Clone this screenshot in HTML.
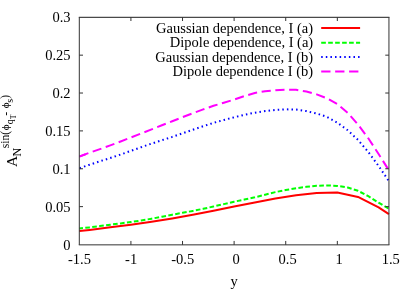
<!DOCTYPE html>
<html><head><meta charset="utf-8"><title>plot</title>
<style>
html,body{margin:0;padding:0;background:#fff;}
svg{display:block;will-change:transform;}
text{font-family:"Liberation Serif",serif;font-size:14.5px;fill:#000;}
</style></head>
<body>
<svg width="415" height="291" viewBox="0 0 415 291">
<rect x="0" y="0" width="415" height="291" fill="#fff"/>
<g fill="none" stroke-width="2" stroke-linejoin="round">
<polyline points="79.3,231.1 89.6,229.9 110.3,227.3 130.9,224.7 151.6,221.8 172.2,218.5 192.8,214.8 213.5,210.8 234.1,206.6 254.8,202.4 275.4,198.4 296.1,195.2 316.7,192.9 337.3,192.6 358.0,196.9 378.6,207.4 388.9,214.2" stroke="#ff0000"/>
<polyline points="79.3,228.5 89.6,227.4 99.9,226.1 110.3,224.7 120.6,223.4 130.9,222.0 141.2,220.5 151.6,218.7 161.9,216.7 172.2,214.7 182.5,212.8 192.8,210.9 203.2,208.8 213.5,206.5 223.8,204.1 234.1,201.7 244.4,199.6 254.8,197.3 265.1,194.7 275.4,192.1 285.7,190.0 296.1,188.3 306.4,186.8 316.7,185.7 327.0,185.4 337.3,185.9 347.7,187.5 358.0,190.8 368.3,196.2 378.6,202.6 389.0,208.8" stroke="#00ff00" stroke-dasharray="4.65 2.35" stroke-dashoffset="1"/>
<polyline points="79.3,168.3 89.6,164.7 99.9,161.3 110.3,158.0 120.6,154.5 130.9,150.9 141.2,147.2 151.6,143.6 161.9,140.2 172.2,136.9 182.5,133.3 192.8,129.7 203.2,126.2 213.5,122.9 223.8,120.0 234.1,117.3 244.4,114.8 254.8,112.7 265.1,111.1 275.4,109.9 285.7,109.3 296.1,109.6 306.4,111.1 316.7,113.5 327.0,116.9 337.3,122.6 347.7,130.2 358.0,139.9 368.3,152.0 378.6,166.0 389.0,181.3" stroke="#0000ff" stroke-dasharray="1.5 3.1" stroke-dashoffset="4.25"/>
<polyline points="79.3,156.6 89.6,152.7 99.9,149.1 110.3,145.4 120.6,141.5 130.9,137.5 141.2,133.5 151.6,129.4 161.9,125.3 172.2,121.2 182.5,117.2 192.8,113.3 203.2,109.4 213.5,105.8 223.8,102.7 234.1,99.6 244.4,96.1 254.8,93.0 265.1,91.2 275.4,90.2 285.7,89.6 296.1,89.8 306.4,91.5 316.7,94.4 327.0,98.3 337.3,104.1 347.7,112.9 358.0,124.5 368.3,138.3 378.6,154.0 389.0,170.5" stroke="#ff00ff" stroke-dasharray="9.2 4.6" stroke-dashoffset="13.3"/>
<line x1="79.3" y1="156.6" x2="85.6" y2="154.2" stroke="#ff00ff"/>
<line x1="321.2" y1="28" x2="360.1" y2="28" stroke="#ff0000"/>
<line x1="321.2" y1="42.8" x2="360.1" y2="42.8" stroke="#00ff00" stroke-dasharray="4.65 2.32"/>
<line x1="321.2" y1="57" x2="360.1" y2="57" stroke="#0000ff" stroke-dasharray="1.5 3.11"/>
<line x1="321.2" y1="71.5" x2="360.1" y2="71.5" stroke="#ff00ff" stroke-dasharray="9.3 4.65"/>
</g>
<g stroke="#333" stroke-width="1" fill="none">
<line x1="78.8" y1="17.3" x2="389.45" y2="17.3" stroke="#1c1c1c"/>
<line x1="78.8" y1="244.85" x2="389.45" y2="244.85"/>
<line x1="79.3" y1="17.3" x2="79.3" y2="244.85"/>
<line x1="388.95" y1="17.3" x2="388.95" y2="244.85"/>
<line x1="130.91" y1="244.85" x2="130.91" y2="240.95"/><line x1="130.91" y1="17.3" x2="130.91" y2="21.0"/><line x1="182.52" y1="244.85" x2="182.52" y2="240.95"/><line x1="182.52" y1="17.3" x2="182.52" y2="21.0"/><line x1="234.12" y1="244.85" x2="234.12" y2="240.95"/><line x1="234.12" y1="17.3" x2="234.12" y2="21.0"/><line x1="285.73" y1="244.85" x2="285.73" y2="240.95"/><line x1="285.73" y1="17.3" x2="285.73" y2="21.0"/><line x1="337.34" y1="244.85" x2="337.34" y2="240.95"/><line x1="337.34" y1="17.3" x2="337.34" y2="21.0"/><line x1="79.3" y1="206.63" x2="83.0" y2="206.63"/><line x1="388.95" y1="206.63" x2="385.25" y2="206.63"/><line x1="79.3" y1="168.77" x2="83.0" y2="168.77"/><line x1="388.95" y1="168.77" x2="385.25" y2="168.77"/><line x1="79.3" y1="130.90" x2="83.0" y2="130.90"/><line x1="388.95" y1="130.90" x2="385.25" y2="130.90"/><line x1="79.3" y1="93.03" x2="83.0" y2="93.03"/><line x1="388.95" y1="93.03" x2="385.25" y2="93.03"/><line x1="79.3" y1="55.17" x2="83.0" y2="55.17"/><line x1="388.95" y1="55.17" x2="385.25" y2="55.17"/>
</g>
<g>
<text x="79.5" y="264.3" text-anchor="middle">-1.5</text><text x="131.1" y="264.3" text-anchor="middle">-1</text><text x="182.7" y="264.3" text-anchor="middle">-0.5</text><text x="236.0" y="264.3" text-anchor="middle">0</text><text x="287.6" y="264.3" text-anchor="middle">0.5</text><text x="339.2" y="264.3" text-anchor="middle">1</text><text x="390.8" y="264.3" text-anchor="middle">1.5</text><text x="70.5" y="249.6" text-anchor="end">0</text><text x="70.5" y="211.7" text-anchor="end">0.05</text><text x="70.5" y="173.9" text-anchor="end">0.1</text><text x="70.5" y="136.0" text-anchor="end">0.15</text><text x="70.5" y="98.1" text-anchor="end">0.2</text><text x="70.5" y="60.3" text-anchor="end">0.25</text><text x="70.5" y="22.4" text-anchor="end">0.3</text>
<text x="313.1" y="32.9" text-anchor="end">Gaussian dependence, I (a)</text>
<text x="313.2" y="47.4" text-anchor="end">Dipole dependence, I (a)</text>
<text x="313.1" y="61.9" text-anchor="end">Gaussian dependence, I (b)</text>
<text x="313.1" y="76.4" text-anchor="end">Dipole dependence I (b)</text>
<text x="234.2" y="285.9" text-anchor="middle">y</text>
<g transform="translate(17.3,166.9) rotate(-90)">
<text x="0" y="0" style="font-size:15.5px">A</text>
<text x="10.3" y="3.5" style="font-size:12px">N</text>
<text x="18.7" y="-8.2" style="font-size:11.5px">sin(</text>
<text x="36.6" y="-8.5" style="font-size:11px">&#981;</text>
<text x="42.6" y="-4.6" style="font-size:10px">q</text>
<text x="47.6" y="-1.4" style="font-size:7.6px">T</text>
<text x="51.2" y="-8.2" style="font-size:11.5px">-</text>
<text x="58.6" y="-8.5" style="font-size:11px">&#981;</text>
<text x="64.2" y="-4.4" style="font-size:10px">s</text>
<text x="68.1" y="-8.2" style="font-size:11.5px">)</text>
</g>
</g>
</svg>
</body></html>
